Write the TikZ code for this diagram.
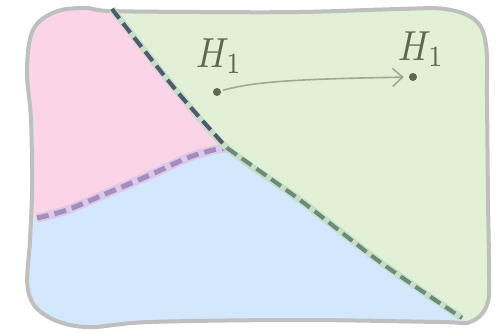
\documentclass[tikz,border=0pt]{standalone}
\usepackage{graphicx}
\usetikzlibrary{arrows.meta}
\definecolor{pinkf}{HTML}{FCD4E8}
\definecolor{greenf}{HTML}{E2F0D6}
\definecolor{bluef}{HTML}{D3E8FC}
\definecolor{outl}{HTML}{BFBFBF}
\definecolor{txt}{HTML}{5B6A4C}
\definecolor{arrc}{HTML}{9DAA93}
\definecolor{purd}{HTML}{A68DC0}
\definecolor{puru}{HTML}{DCCAEA}
\definecolor{diagA}{HTML}{4F5A6F}
\definecolor{diagB}{HTML}{6C8A78}
\definecolor{diagU}{HTML}{C6DFC6}
\newcommand{\bigH}{\scalebox{3.6}[4.2]{$H_1$}}
\tikzset{
  lbl/.style={text=txt, inner sep=0pt, anchor=base west},
  dotn/.style={circle, fill=txt, inner sep=0pt, minimum size=8pt},
  arr/.style={draw=arrc, line width=1.6pt, -{Straight Barb[length=10pt,width=18pt,line width=1.6pt]}, shorten <=2pt, shorten >=5pt},
  border/.style={draw=outl, line width=4pt},
  purdash/.style={draw=purd, line width=5pt, dash pattern=on 12pt off 6pt},
  purunder/.style={draw=puru, line width=9pt},
  diagunder/.style={draw=diagU, line width=7pt},
}
\begin{document}
\begin{tikzpicture}[x=1pt,y=-1pt]
\useasboundingbox (0,0) rectangle (495,332);
\def\boundary{plot[smooth cycle, tension=0.6] coordinates {(110,11) (200,12) (300,12) (400,9) (445,9) (475,20) (486,45) (487,100) (488,200) (489,270) (487,305) (470,322) (440,322) (300,320) (150,322) (85,327) (45,315) (28,290) (30,240) (32,190) (31,120) (27,70) (33,30) (55,12) (85,8)}}
\begin{scope}
  \clip \boundary;
  \fill[bluef] (0,0) rectangle (495,332);
  \fill[pinkf] (0,0) -- (112,0) -- plot[smooth] coordinates {(112,9) (140,45) (180,95) (227,148)}
     -- plot[smooth] coordinates {(227,148) (213,150) (187,158) (150,175) (110,192) (67,210) (37,218)} -- (0,220) -- cycle;
  \fill[greenf] (112,0) -- plot[smooth] coordinates {(112,9) (140,45) (180,95) (227,148) (300,200) (380,262) (462,318)} -- (495,332) -- (495,0) -- cycle;
\end{scope}
\draw[border] \boundary;
% purple dashed boundary
\draw[purunder] plot[smooth] coordinates {(37,218) (67,210) (110,192) (150,175) (187,158) (213,150) (227,148)};
\draw[purdash] plot[smooth] coordinates {(37,218) (67,210) (110,192) (150,175) (187,158) (213,150) (227,148)};
% diagonal dashed boundary
\draw[diagunder] plot[smooth] coordinates {(112,9) (140,45) (180,95) (227,148) (300,200) (380,262) (462,318)};
\draw[draw=diagA, line width=4pt, dash pattern=on 12pt off 6pt] plot[smooth] coordinates {(112,9) (140,45) (180,95) (227,148)};
\draw[draw=diagB, line width=4pt, dash pattern=on 12pt off 6pt] plot[smooth] coordinates {(227,148) (300,200) (380,262) (462,318)};
% labels and points
\node[lbl] (h1) at (196,67) {\bigH};
\node[lbl] (h2) at (398,60) {\bigH};
\node[dotn] (p1) at (217,92) {};
\node[dotn] (p2) at (413,77) {};
\draw[arr] (p1) .. controls +(35,-10) and +(-120,2) .. (p2);
\end{tikzpicture}
\end{document}
